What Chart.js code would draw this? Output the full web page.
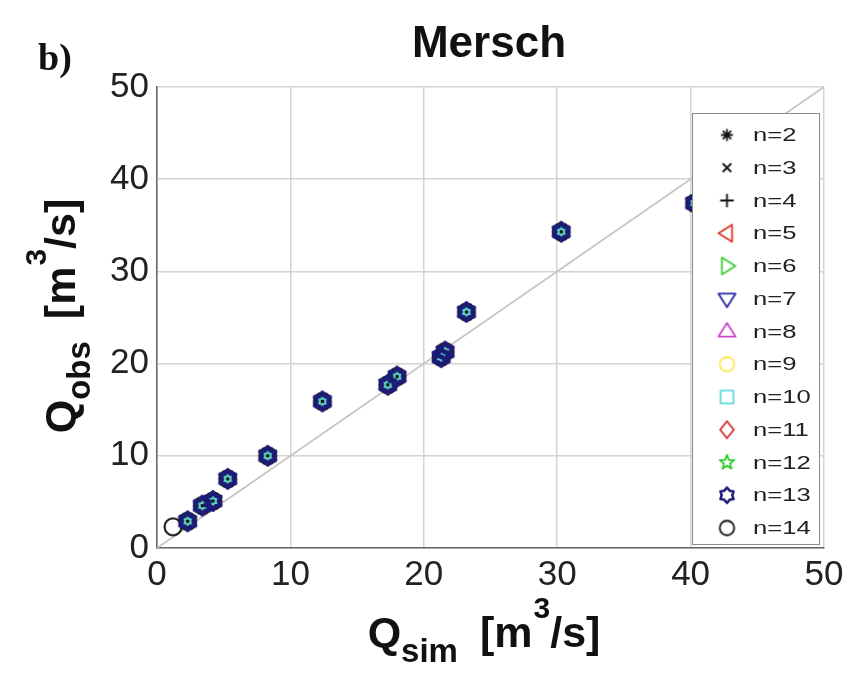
<!DOCTYPE html>
<html>
<head>
<meta charset="utf-8">
<script src="https://cdn.jsdelivr.net/npm/chart.js@4/dist/chart.umd.min.js"></script>
<style>
    body { margin: 0; background: #fff; }
    #wrap { width: 852px; height: 680px; }
</style>
</head>
<body>
<div id="wrap"><canvas id="scatter" width="852" height="680"></canvas></div>
<script>
// Data (Q in m3/s)
const qSim = [2.3, 3.4, 4.2, 5.3, 8.3, 12.4, 17.3, 18.0, 21.3, 21.6, 23.2, 30.3, 40.3];
const qObs = [2.9, 4.6, 5.1, 7.5, 10.0, 15.9, 17.7, 18.6, 20.7, 21.3, 25.6, 34.3, 37.4];
// n=14 has one extra low-flow point
const qSimLow = [1.2];
const qObsLow = [2.3];
const seriesLabels = ['n=2', 'n=3', 'n=4', 'n=5', 'n=6', 'n=7', 'n=8', 'n=9', 'n=10', 'n=11', 'n=12', 'n=13', 'n=14'];
const axisTicks = [0, 10, 20, 30, 40, 50];

// Marker styles per series
const markerKinds = ['asterisk', 'x', 'plus', 'triLeft', 'triRight', 'triDown', 'triUp', 'circle', 'square', 'diamond', 'pentagram', 'hexagram', 'circle'];
const markerColors = ['#111', '#111', '#111', '#e0342c', '#3ccc3c', '#2828a8', '#cc44cc', '#ffe84a', '#62d8d8', '#d42a2a', '#2ccc2c', '#1c1c78', '#111'];

function drawMarker(ctx, kind, color, x, y, r, lw) {
    ctx.save();
    ctx.strokeStyle = color;
    ctx.lineWidth = lw;
    ctx.lineJoin = 'round';
    ctx.beginPath();
    const poly = (pts) => {
        pts.forEach((p, i) => i ? ctx.lineTo(x + p[0], y + p[1]) : ctx.moveTo(x + p[0], y + p[1]));
        ctx.closePath();
    };
    const star = (n, ro, ri, rot) => {
        const pts = [];
        for (let i = 0; i < n * 2; i++) {
            const a = rot + i * Math.PI / n;
            const rr = i % 2 ? ri : ro;
            pts.push([rr * Math.cos(a), rr * Math.sin(a)]);
        }
        poly(pts);
    };
    switch (kind) {
        case 'asterisk':
            for (let i = 0; i < 4; i++) {
                const a = i * Math.PI / 4;
                ctx.moveTo(x - r * 0.7 * Math.cos(a), y - r * 0.7 * Math.sin(a));
                ctx.lineTo(x + r * 0.7 * Math.cos(a), y + r * 0.7 * Math.sin(a));
            }
            break;
        case 'x':
            ctx.moveTo(x - r * 0.5, y - r * 0.5); ctx.lineTo(x + r * 0.5, y + r * 0.5);
            ctx.moveTo(x + r * 0.5, y - r * 0.5); ctx.lineTo(x - r * 0.5, y + r * 0.5);
            break;
        case 'plus':
            ctx.moveTo(x - r * 0.8, y); ctx.lineTo(x + r * 0.8, y);
            ctx.moveTo(x, y - r * 0.8); ctx.lineTo(x, y + r * 0.8);
            break;
        case 'triLeft': poly([[-r, 0], [r * 0.6, -r], [r * 0.6, r]]); break;
        case 'triRight': poly([[r, 0], [-r * 0.6, -r], [-r * 0.6, r]]); break;
        case 'triDown': poly([[0, r], [-r, -r * 0.6], [r, -r * 0.6]]); break;
        case 'triUp': poly([[0, -r], [-r, r * 0.6], [r, r * 0.6]]); break;
        case 'circle': ctx.arc(x, y, r * 0.85, 0, Math.PI * 2); break;
        case 'square': poly([[-r * 0.75, -r * 0.75], [r * 0.75, -r * 0.75], [r * 0.75, r * 0.75], [-r * 0.75, r * 0.75]]); break;
        case 'diamond': poly([[0, -r], [r * 0.8, 0], [0, r], [-r * 0.8, 0]]); break;
        case 'pentagram': star(5, r * 0.9, r * 0.38, -Math.PI / 2); break;
        case 'hexagram': star(6, r * 0.9, r * 0.62, -Math.PI / 2); break;
    }
    ctx.stroke();
    ctx.restore();
}

function markerImage(kind, color, r, lw) {
    const c = document.createElement('canvas');
    const s = Math.ceil(2 * r + lw + 4);
    c.width = s; c.height = s;
    drawMarker(c.getContext('2d'), kind, color, s / 2, s / 2, r, lw);
    return c;
}

const markerImages = markerKinds.map((k, i) => {
    if (k === 'hexagram') return markerImage(k, markerColors[i], 9.5, 4.5);
    if (seriesLabels[i] === 'n=14') return markerImage(k, markerColors[i], 10, 2);
    if (k === 'square') return markerImage(k, markerColors[i], 4, 2.5);
    return markerImage(k, markerColors[i], 7.5, 2);
});
const legendImages = markerKinds.map((k, i) => markerImage(k, markerColors[i], 8.5, k === 'hexagram' ? 2.5 : 1.8));

const toPoints = (xs, ys) => xs.map((v, i) => ({ x: v, y: ys[i] }));

const datasets = seriesLabels.map((label, i) => {
    const pts = label === 'n=14' ? toPoints(qSimLow.concat(qSim), qObsLow.concat(qObs)) : toPoints(qSim, qObs);
    // n=13 hexagram on top, cyan square just below it, the rest underneath
    let order = 20 - i;
    if (label === 'n=13') order = 0;
    if (label === 'n=10') order = 1;
    return {
        type: 'scatter',
        label: label,
        data: pts,
        pointStyle: markerImages[i],
        order: order
    };
});

datasets.push({
    type: 'line',
    label: '1:1',
    data: [{ x: 0, y: 0 }, { x: 50, y: 50 }],
    borderColor: '#cbc3ba',
    borderWidth: 1.8,
    pointRadius: 0,
    order: 100
});

// Legend box, axis titles, panel label
const decorPlugin = {
    id: 'decor',
    afterDatasetsDraw(chart) {
        const ctx = chart.ctx;
        ctx.save();
        // legend
        const bx = 692, by = 113, bw = 127, bh = 431;
        ctx.fillStyle = '#fff';
        ctx.fillRect(bx, by, bw, bh);
        ctx.strokeStyle = '#8a8a8a';
        ctx.lineWidth = 1;
        ctx.strokeRect(bx + 0.5, by + 0.5, bw, bh);
        ctx.font = '21px "Liberation Sans", Arial, sans-serif';
        ctx.fillStyle = '#222';
        ctx.textBaseline = 'middle';
        seriesLabels.forEach((label, i) => {
            const y = 135 + i * 32.75;
            const img = legendImages[i];
            ctx.drawImage(img, 727 - img.width / 2, y - img.height / 2);
            ctx.save();
            ctx.translate(753, y + 1);
            ctx.scale(1.22, 0.9);
            ctx.fillText(label, 0, 0);
            ctx.restore();
        });
        ctx.restore();
    },
    afterDraw(chart) {
        const ctx = chart.ctx;
        ctx.save();
        ctx.fillStyle = '#111';
        ctx.textBaseline = 'alphabetic';

        // panel label
        ctx.font = 'bold 38px "Liberation Serif", "Times New Roman", serif';
        ctx.fillText('b)', 38, 70);

        // title
        ctx.font = 'bold 44px "Liberation Sans", Arial, sans-serif';
        ctx.textAlign = 'center';
        ctx.fillText('Mersch', 489, 57);
        ctx.textAlign = 'left';

        // axis title with sub/superscripts
        const drawLabel = (sub) => {
            const big = 'bold 43px "Liberation Sans", Arial, sans-serif';
            const small = 'bold 33px "Liberation Sans", Arial, sans-serif';
            const sup = 'bold 30px "Liberation Sans", Arial, sans-serif';
            const parts = [
                { t: 'Q', f: big, dy: 0, gap: 0 },
                { t: sub, f: small, dy: 15, gap: 22 },
                { t: '[m', f: big, dy: 0, gap: 1 },
                { t: '3', f: sup, dy: -29, gap: 0 },
                { t: '/s]', f: big, dy: 0, gap: 0 }
            ];
            let w = 0;
            parts.forEach(p => { ctx.font = p.f; w += ctx.measureText(p.t).width + p.gap; });
            let x = -w / 2;
            parts.forEach(p => {
                ctx.font = p.f;
                ctx.fillText(p.t, x, p.dy);
                x += ctx.measureText(p.t).width + p.gap;
            });
        };

        ctx.save();
        ctx.translate(484, 647);
        drawLabel('sim');
        ctx.restore();

        ctx.save();
        ctx.translate(75, 316);
        ctx.rotate(-Math.PI / 2);
        drawLabel('obs');
        ctx.restore();

        ctx.restore();
    }
};

const tickFont = { family: '"Liberation Sans", Arial, sans-serif', size: 35 };

new Chart(document.getElementById('scatter').getContext('2d'), {
    type: 'scatter',
    data: { datasets: datasets },
    options: {
        responsive: false,
        animation: false,
        events: [],
        layout: { padding: { left: 0, right: 28, top: 87, bottom: 0 } },
        plugins: {
            legend: { display: false },
            title: { display: false },
            tooltip: { enabled: false }
        },
        scales: {
            x: {
                type: 'linear',
                min: 0,
                max: 50,
                afterFit: (scale) => { scale.height = 132; },
                afterBuildTicks: (scale) => { scale.ticks = axisTicks.map(v => ({ value: v })); },
                grid: { color: '#d4d4d4', lineWidth: 1.5, drawTicks: false },
                border: { color: '#666', width: 1.5 },
                ticks: { color: '#222', font: tickFont, padding: 6, maxRotation: 0 }
            },
            y: {
                type: 'linear',
                min: 0,
                max: 50,
                afterFit: (scale) => { scale.width = 157; },
                afterBuildTicks: (scale) => { scale.ticks = axisTicks.map(v => ({ value: v })); },
                grid: { color: '#d4d4d4', lineWidth: 1.5, drawTicks: false },
                border: { color: '#666', width: 1.5 },
                ticks: { color: '#222', font: tickFont, padding: 8 }
            }
        }
    },
    plugins: [decorPlugin]
});
</script>
</body>
</html>
